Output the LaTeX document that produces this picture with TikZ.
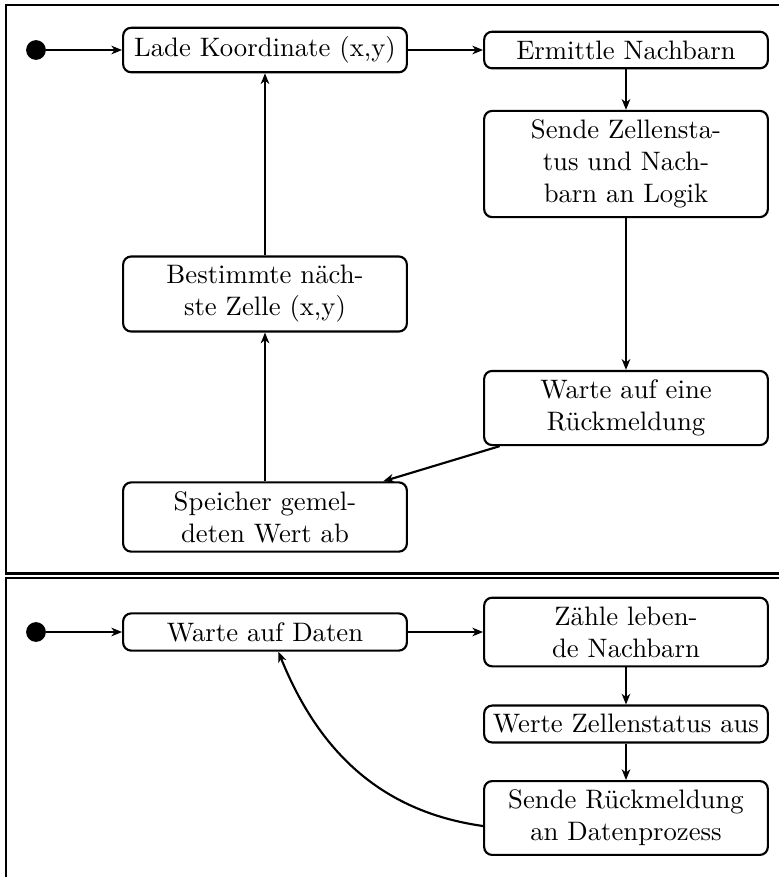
\documentclass[tikz,border=0pt]{standalone}
\usetikzlibrary{arrows.meta}
\begin{document}
\begin{tikzpicture}[x=0.3745pt,y=-0.3745pt,
  state/.style={draw, thick, rounded corners=3pt, text width=3.5cm, align=center, inner sep=3.33pt},
  startdot/.style={circle, fill, inner sep=0pt, minimum size=7.4pt},
  flow/.style={thick, -{Stealth[length=4pt,width=3.2pt,inset=1.2pt]}},
  frame/.style={line width=0.9pt}]
\useasboundingbox (0,0) rectangle (779,877);

% the two process frames
\begin{scope}
  \clip (0,0) rectangle (779,877);
  \draw[frame] (6,5) rectangle (820,573.5);
  \draw[frame] (6,578) rectangle (820,920);
\end{scope}

% data process
\node[startdot] (s1) at (36,50) {};
\node[state] (lade) at (265,50) {Lade Koordinate (x,y)};
\node[state] (ermittle) at (626,50) {Ermittle Nachbarn};
\node[state] (sende) at (626,164) {Sende Zellensta-\\tus und Nach-\\barn an Logik};
\node[state] (bestimme) at (265,294) {Bestimmte näch-\\ste Zelle (x,y)};
\node[state] (warte) at (626,408) {Warte auf eine\\Rückmeldung};
\node[state] (speicher) at (265,517) {Speicher gemel-\\deten Wert ab};

\draw[flow] (s1) -- (lade);
\draw[flow] (lade) -- (ermittle);
\draw[flow] (ermittle) -- (sende);
\draw[flow] (sende) -- (warte);
\draw[flow] (warte) -- (speicher);
\draw[flow] (speicher) -- (bestimme);
\draw[flow] (bestimme) -- (lade);

% logic process
\node[startdot] (s2) at (36,632) {};
\node[state] (daten) at (265,632) {Warte auf Daten};
\node[state] (zaehle) at (626,632) {Zähle leben-\\de Nachbarn};
\node[state] (werte) at (626,724) {\makebox[\linewidth]{Werte Zellenstatus aus}};
\node[state] (rueck) at (626,818) {Sende Rückmeldung\\an Datenprozess};

\draw[flow] (s2) -- (daten);
\draw[flow] (daten) -- (zaehle);
\draw[flow] (zaehle) -- (werte);
\draw[flow] (werte) -- (rueck);
\draw[flow] ([yshift=-3pt]rueck.west) to[out=172,in=-68] ([xshift=5pt]daten.south);
\end{tikzpicture}
\end{document}
